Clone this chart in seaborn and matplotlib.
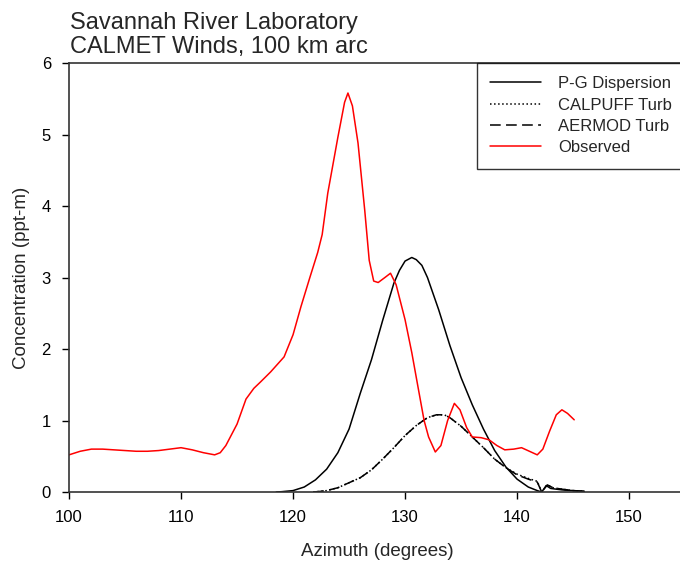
import matplotlib
matplotlib.use("Agg")
import matplotlib.pyplot as plt
import seaborn as sns
import pandas as pd

# ── Observed concentrations along the 100 km arc ──
obs_az = [100, 101, 102, 103, 104, 105, 106, 107, 108, 109, 110, 111, 112, 113,
          113.5, 114, 115, 115.8, 116.5, 117.1, 118, 119.2, 120, 120.7, 121.5,
          122.2, 122.6, 123.1, 124, 124.6, 124.9, 125.3, 125.8, 126.4, 126.8,
          127.2, 127.6, 128.2, 128.7, 129.2, 130, 130.6, 131.2, 131.7, 132.1,
          132.7, 133.2, 133.8, 134.4, 134.9, 135.5, 136.0, 136.8, 137.5, 138.2,
          138.9, 139.7, 140.4, 141.1, 141.8, 142.3, 142.9, 143.5, 144.0, 144.5,
          145.1]
obs_conc = [0.52, 0.57, 0.60, 0.60, 0.59, 0.58, 0.57, 0.57, 0.58, 0.60, 0.62,
            0.59, 0.55, 0.52, 0.55, 0.65, 0.95, 1.30, 1.45, 1.54, 1.68, 1.89,
            2.20, 2.59, 3.00, 3.35, 3.60, 4.18, 4.96, 5.45, 5.58, 5.40, 4.88,
            3.94, 3.24, 2.95, 2.93, 3.00, 3.06, 2.90, 2.41, 1.95, 1.43, 1.00,
            0.77, 0.56, 0.65, 1.00, 1.24, 1.15, 0.90, 0.77, 0.76, 0.73, 0.65,
            0.59, 0.60, 0.62, 0.57, 0.52, 0.60, 0.85, 1.08, 1.15, 1.10, 1.01]

# ── P-G dispersion model ──
pg_az = [118.5, 119, 120, 121, 122, 123, 124, 125, 126, 127, 128, 129, 129.5,
         130, 130.6, 131, 131.5, 132, 133, 134, 135, 136, 137, 138, 139, 140,
         141, 141.8, 142.2, 142.6, 143, 144, 145, 146]
pg_conc = [0.0, 0.005, 0.02, 0.07, 0.17, 0.32, 0.55, 0.88, 1.38, 1.85, 2.40,
           2.92, 3.10, 3.23, 3.28, 3.25, 3.17, 3.00, 2.55, 2.05, 1.60, 1.22,
           0.88, 0.58, 0.35, 0.18, 0.07, 0.02, 0.0, 0.09, 0.05, 0.03, 0.02, 0.01]

# ── AERMOD / CALPUFF turbulence (nearly identical) ──
turb_az = [121.8, 122.5, 123, 124, 125, 126, 127, 128, 129, 130, 131, 132,
           132.8, 133.5, 134, 135, 136, 137, 138, 139, 140, 141, 141.8, 142.2,
           142.7, 143.2, 144, 145, 146]
aermod_conc = [0.0, 0.01, 0.02, 0.06, 0.13, 0.20, 0.31, 0.46, 0.62, 0.79, 0.93,
               1.04, 1.08, 1.08, 1.04, 0.92, 0.77, 0.62, 0.46, 0.34, 0.24, 0.18,
               0.14, 0.0, 0.10, 0.06, 0.04, 0.02, 0.01]
calpuff_conc = [0.0, 0.01, 0.02, 0.06, 0.13, 0.20, 0.31, 0.46, 0.62, 0.79, 0.93,
                1.04, 1.08, 1.08, 1.04, 0.92, 0.77, 0.62, 0.46, 0.34, 0.25, 0.19,
                0.15, 0.0, 0.10, 0.06, 0.04, 0.02, 0.01]

sns.set_style("ticks")
plt.rcParams['font.family'] = ['Liberation Sans', 'DejaVu Sans']

fig = plt.figure(figsize=(6.8, 5.66), dpi=100)
ax = fig.add_axes([0.1015, 0.1307, 0.906, 0.758])

series = [
    ("P-G Dispersion", pg_az, pg_conc, dict(color='black', ls='-')),
    ("CALPUFF Turb", turb_az, calpuff_conc, dict(color='black', ls=':')),
    ("AERMOD Turb", turb_az, aermod_conc, dict(color='black', ls=(0, (7, 3.5)))),
    ("Observed", obs_az, obs_conc, dict(color='red', ls='-')),
]
for label, xs, ys, style in series:
    df = pd.DataFrame({'az': xs, 'conc': ys})
    sns.lineplot(data=df, x='az', y='conc', ax=ax, sort=False, lw=1.1,
                 label=label, **style)

ax.set_xlim(100, 155)
ax.set_ylim(0, 6)
ax.set_xticks([100, 110, 120, 130, 140, 150])
ax.set_yticks(range(0, 7))
ax.tick_params(direction='out', length=5, width=1, pad=8, labelsize=12,
               colors='black')
for s in ax.spines.values():
    s.set_color('#333333')
    s.set_linewidth(1.2)
ax.set_xlabel("Azimuth (degrees)", fontsize=13.5, labelpad=13)
ax.set_ylabel("Concentration (ppt-m)", fontsize=13.5, labelpad=8)

leg = ax.legend(loc='upper right', bbox_to_anchor=(1.0, 1.0), borderaxespad=0,
                fontsize=12, frameon=True, fancybox=False, handlelength=3.05,
                handletextpad=1.0, labelspacing=0.38, borderpad=0.8)
leg.get_frame().set_edgecolor('black')
leg.get_frame().set_linewidth(1.0)

fig.text(0.103, 0.979, "Savannah River Laboratory\nCALMET Winds, 100 km arc",
         ha='left', va='top', fontsize=17, linespacing=1.12)

fig.savefig("out.png", dpi=100)
